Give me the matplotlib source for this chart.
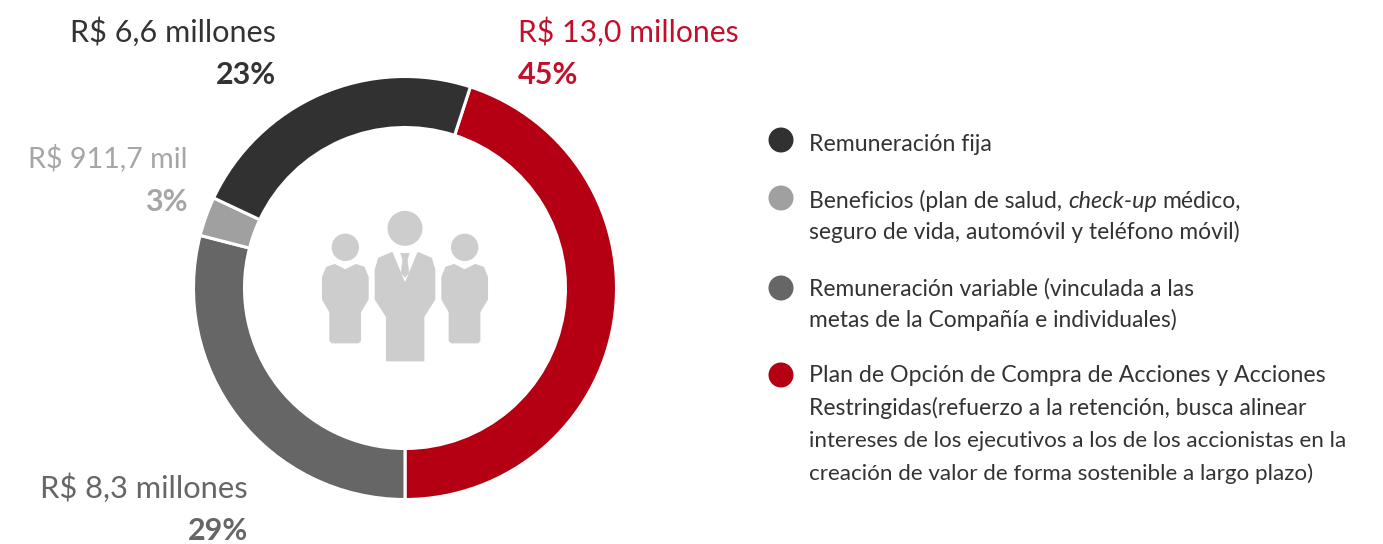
import matplotlib
matplotlib.use("Agg")
import matplotlib.pyplot as plt
from matplotlib.patches import Circle, Polygon

W, H = 1383, 544

# order is clockwise from the top of the ring
labels = ["R$ 13,0 millones", "R$ 8,3 millones", "R$ 911,7 mil", "R$ 6,6 millones"]
percents = ["45%", "29%", "3%", "23%"]
values = [45, 29, 3, 23]
colors = ["#B50013", "#666666", "#A0A0A0", "#313131"]
text_colors = ["#C2102B", "#666666", "#A6A6A6", "#333333"]
label_sizes = [21.7, 22.2, 20.6, 22.1]
label_x = [518, 248, 188, 276]
label_ha = ["left", "right", "right", "right"]
label_y = [42, 498, 167, 42]
pct_y = [84, 540, 211, 84]

legend_colors = ["#313131", "#A0A0A0", "#666666", "#B50013"]
legend_dot_y = [140, 198, 288, 375]
legend_text = [
    "Remuneración fija",
    "Beneficios (plan de salud,",
    "seguro de vida, automóvil y teléfono móvil)",
    "Remuneración variable (vinculada a las",
    "metas de la Compañía e individuales)",
    "Plan de Opción de Compra de Acciones y Acciones",
    "Restringidas(refuerzo a la retención, busca alinear",
    "intereses de los ejecutivos a los de los accionistas en la",
    "creación de valor de forma sostenible a largo plazo)",
]
legend_y = [151, 208, 239, 296, 327, 382, 415, 447, 480]
legend_sizes = [16.7, 16.45, 16.4, 16.35, 16.35, 16.7, 16.45, 16.15, 16.15]

plt.rcParams["font.family"] = ["Lato", "DejaVu Sans"]

fig = plt.figure(figsize=(W / 100, H / 100), dpi=100, facecolor="white")

# full figure axes in pixels
ax = fig.add_axes([0, 0, 1, 1])
ax.set_xlim(0, W)
ax.set_ylim(H, 0)
ax.axis("off")

# donut, made a bit larger since the white edge eats into it
ring = fig.add_axes([193.5 / W, (H - 499.5) / H, 423 / W, 423 / H])
ring.pie(values, colors=colors, startangle=72, counterclock=False, radius=1,
         wedgeprops=dict(width=51 / 211.5, edgecolor="white", linewidth=2.2))
ring.set_xlim(-1, 1)
ring.set_ylim(-1, 1)
ring.set_zorder(1)

for i in range(len(labels)):
    ax.text(label_x[i], label_y[i], labels[i], color=text_colors[i], fontsize=label_sizes[i], va="baseline", ha=label_ha[i])
    ax.text(label_x[i], pct_y[i], percents[i], color=text_colors[i], fontsize=22, fontweight="bold", va="baseline", ha=label_ha[i])

# legend
for c, y in zip(legend_colors, legend_dot_y):
    ax.add_patch(Circle((781, y), 12.5, color=c, lw=0))

for txt, y, s in zip(legend_text, legend_y, legend_sizes):
    ax.text(809, y, txt, color="#333333", fontsize=s, va="baseline", ha="left")
ax.text(1068, 208, "check-up", color="#333333", fontsize=16.8, style="italic", va="baseline", ha="left")
ax.text(1162, 208, "médico,", color="#333333", fontsize=16.45, va="baseline", ha="left")

# people icon, traced in zoomed crop coords
icon = "#CDCDCD"
def z(pts, dx=0):
    return [((x + dx) / 3 + 300, y / 3 + 190) for x, y in pts]

side = [(68, 262), (80, 232), (104, 224), (136, 240), (168, 224), (192, 232), (204, 262),
        (204, 328), (181, 366), (181, 452), (175, 458), (96, 458), (90, 452), (90, 366),
        (68, 328)]
for dx in (0, 358):
    ax.add_patch(Polygon(z(side, dx), closed=True, fc=icon, ec=icon, lw=1, joinstyle="round"))
    ax.add_patch(Circle(z([(136 + dx, 172)])[0], 13.7, color=icon, lw=0))

ax.add_patch(Circle(z([(315, 115)])[0], 17.5, color=icon, lw=0))
body = [(226, 240), (236, 205), (276, 188), (315, 282), (354, 188), (394, 205), (404, 240),
        (404, 328), (371, 380), (371, 512), (260, 512), (260, 380), (226, 328)]
ax.add_patch(Polygon(z(body), closed=True, fc=icon, ec=icon, lw=1, joinstyle="round"))
tie = [(302, 190), (328, 190), (322, 208), (326, 248), (315, 262), (304, 248), (308, 208)]
ax.add_patch(Polygon(z(tie), closed=True, fc=icon, ec=icon, lw=0.5, joinstyle="round"))

ax.set_zorder(2)
ax.patch.set_alpha(0)

fig.savefig("out.png", dpi=100)
